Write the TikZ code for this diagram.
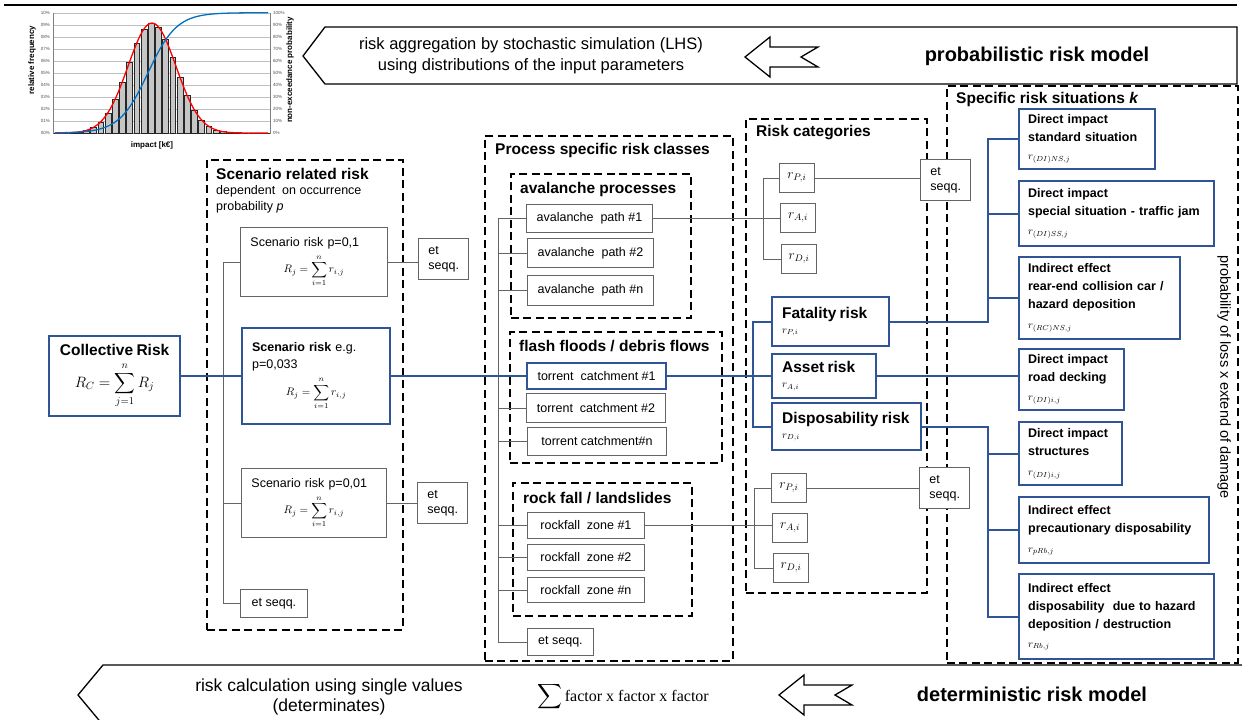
\documentclass[tikz,border=0pt]{standalone}
\usepackage{fix-cm}
\usepackage{amsmath}
\usepackage{fontspec}
\setmainfont{Liberation Sans}
\newfontfamily\serifface{Liberation Serif}
\usetikzlibrary{positioning}

\definecolor{riskblue}{RGB}{47,85,151}
\definecolor{linegray}{RGB}{100,100,100}
\definecolor{cdfblue}{RGB}{0,112,192}
\newcommand\fsz[2]{\fontsize{#1}{#2}\selectfont}

\tikzset{
  smallbox/.style={draw=linegray, line width=0.9pt, fill=white, anchor=north west, inner sep=0pt, font=\fsz{12.5}{15}},
  mathbox/.style={smallbox, minimum width=35pt, minimum height=29pt, font=\fsz{13.5}{15}},
  seqbox/.style={smallbox, minimum width=50pt, minimum height=41pt, text width=30pt, inner xsep=10pt},
  bluebox/.style={draw=riskblue, line width=2.2pt, fill=white, anchor=north west, inner sep=0pt},
  spec/.style={bluebox, inner xsep=9pt, font=\bfseries\fsz{12.5}{18}},
  groupbox/.style={draw=black, line width=1.6pt, dash pattern=on 8pt off 4.5pt, anchor=north west, inner sep=0pt},
  headline/.style={anchor=west, inner sep=0pt, font=\bfseries\fsz{15.5}{18}},
  link/.style={draw=linegray, line width=0.9pt},
  bluelink/.style={draw=riskblue, line width=2.2pt},
  hollow/.style={draw=black, line width=1.3pt, fill=white},
  ticklabel/.style={inner sep=0pt, text=black!70, font=\fsz{4.5}{5}},
}

\begin{document}
\begin{tikzpicture}[x=1pt, y=-1pt]
\useasboundingbox (0,0) rectangle (1242,720);

% simulated distribution (top left)
\foreach \k in {0,...,10}
  \draw[gray!50, line width=0.4pt] (53,{133-12.03*\k}) -- (270,{133-12.03*\k});
\draw[gray, line width=0.5pt] (53,12.7) -- (53,133) -- (270,133) -- (270,12.7);
\foreach \i in {0,...,29} {
  \pgfmathsetmacro\xc{57.5+7.2*\i}
  \pgfmathsetmacro\hb{109.5*exp(-((\xc-152)^2)/1152)}
  \draw[fill=gray!45, draw=black!85, line width=0.4pt] ({\xc-2.9},133) rectangle ({\xc+2.9},{133-\hb});
}
\draw[red, line width=1.3pt, smooth, domain=55:268, samples=80, variable=\t] plot (\t,{133-110*exp(-((\t-152)^2)/1152)});
\draw[cdfblue, line width=1.3pt, smooth, domain=55:268, samples=80, variable=\t] plot (\t,{133-120.3/(1+exp(-0.07*(\t-148)))});
\foreach \k in {0,...,10} {
  \pgfmathtruncatemacro\r{10*\k}
  \node[ticklabel, anchor=east] (lt\k) at (50,{133-12.03*\k}) {\ifnum\k<10 0\fi\k\%};
  \node[ticklabel, anchor=west] (rt\k) at (273,{133-12.03*\k}) {\r\%};
}
\node[rotate=90, font=\bfseries\fsz{8}{9}] (relfreq) at (32,60) {relative frequency};
\node[rotate=90, font=\bfseries\fsz{8}{9}] (nonex) at (290,70) {non-exceedance probability};
\node[font=\bfseries\fsz{8}{9}] (impact) at (152,145) {impact [k€]};

% probabilistic model arrow
\draw[line width=1.8pt] (4,5) -- (1237,5);
\draw[hollow] (1237,27) -- (325,27) -- (303,56) -- (325,84) -- (1237,84) -- cycle;
\node[font=\fsz{16.5}{21}, align=center] (lhs) at (531,56) {risk aggregation by stochastic simulation (LHS)\\using distributions of the input parameters};
\draw[hollow] (745,57) -- ++(25,-20) -- ++(0,10) -- ++(48,0) -- ++(-17,10) -- ++(17,10) -- ++(-48,0) -- ++(0,10) -- cycle;
\node[font=\bfseries\fsz{20}{24}] (probmodel) at (1037,56) {probabilistic risk model};

% deterministic model arrow
\draw[hollow] (1242,665) -- (103,665) -- (78,695) -- (103,725);
\node[font=\fsz{17.5}{20}, align=center] (single) at (329,697) {risk calculation using single values\\(determinates)};
\node[font=\fsz{16}{18}] (sumfac) at (623,697) {$\displaystyle\sum$\,\serifface factor x factor x factor};
\draw[hollow] (779,695) -- ++(25,-20) -- ++(0,10) -- ++(48,0) -- ++(-17,10) -- ++(17,10) -- ++(-48,0) -- ++(0,10) -- cycle;
\node[font=\bfseries\fsz{20}{24}] (detmodel) at (1032,694) {deterministic risk model};

% group frames
\node[groupbox, minimum width=196pt, minimum height=470pt] (scengrp) at (206,159) {};
\node[groupbox, minimum width=248pt, minimum height=525pt] (procgrp) at (484,135) {};
\node[groupbox, minimum width=180pt, minimum height=144pt] (avgrp) at (510,173) {};
\node[groupbox, minimum width=212pt, minimum height=131pt] (flashgrp) at (509,331) {};
\node[groupbox, minimum width=179pt, minimum height=133pt] (rockgrp) at (512,482) {};
\node[groupbox, minimum width=181pt, minimum height=474pt] (catgrp) at (745,118) {};
\node[groupbox, minimum width=291pt, minimum height=577pt] (sitgrp) at (946,85) {};

\node[headline] (scentitle) at (216,174) {Scenario related risk};
\node[anchor=north west, align=left, inner sep=0pt, font=\fsz{12.5}{16}] (scensub) at (216,185) {dependent\ \ on occurrence\\probability \textit{p}};
\node[headline] (proctitle) at (495,150) {Process specific risk classes};
\node[headline] (avtitle) at (520,189) {avalanche processes};
\node[headline] (flashtitle) at (519,346) {flash floods / debris flows};
\node[headline] (rocktitle) at (523,498) {rock fall / landslides};
\node[headline] (cattitle) at (756,133) {Risk categories};
\node[headline] (sittitle) at (956,99) {Specific risk situations \textit{k}};
\node[rotate=-90, font=\fsz{14.5}{17}] (lossx) at (1224,377) {probability of loss x extend of damage};

% collective risk and scenarios
\node[bluebox, minimum width=131pt, minimum height=80pt, text width=121pt, inner xsep=5pt] (coll) at (48,335) {\centering{\bfseries\fsz{15.5}{18}Collective Risk\par}\vspace{6pt}\fsz{15}{17}$\displaystyle R_C=\sum_{j=1}^{n} R_j$\par};
\node[smallbox, minimum width=147pt, minimum height=69pt, text width=127pt, inner xsep=10pt] (s1) at (240,227) {Scenario risk p=0,1\par\vspace{5pt}\centering\fsz{11}{13}$\displaystyle R_j=\sum_{i=1}^{n} r_{i,j}$\par};
\node[bluebox, minimum width=148pt, minimum height=96pt, text width=128pt, inner xsep=10pt, font=\fsz{12.5}{17}] (s2) at (241,327) {{\bfseries Scenario risk} e.g.\par p=0,033\par\vspace{5pt}\centering\fsz{11}{13}$\displaystyle R_j=\sum_{i=1}^{n} r_{i,j}$\par};
\node[smallbox, minimum width=145pt, minimum height=69pt, text width=125pt, inner xsep=10pt] (s3) at (241,468) {Scenario risk p=0,01\par\vspace{5pt}\centering\fsz{11}{13}$\displaystyle R_j=\sum_{i=1}^{n} r_{i,j}$\par};
\node[smallbox, minimum width=67pt, minimum height=28pt] (sx) at (240,589) {et seqq.};
\node[seqbox] (e1) at (418,238) {et\\seqq.};
\node[seqbox] (e2) at (417,482) {et\\seqq.};

% process classes
\node[smallbox, minimum width=126pt, minimum height=28pt] (av1) at (526,204) {avalanche\ \ path \#1};
\node[smallbox, minimum width=126pt, minimum height=29pt] (av2) at (527,238) {avalanche\ \ path \#2};
\node[smallbox, minimum width=126pt, minimum height=30pt] (avn) at (527,275) {avalanche\ \ path \#n};
\node[bluebox, minimum width=139pt, minimum height=26pt, font=\fsz{12.5}{15}] (tc1) at (526,362) {torrent\ \ catchment \#1};
\node[smallbox, minimum width=139pt, minimum height=29pt] (tc2) at (526,393) {torrent\ \ catchment \#2};
\node[smallbox, minimum width=139pt, minimum height=28pt] (tcn) at (527,427) {torrent catchment\#n};
\node[smallbox, minimum width=117pt, minimum height=26pt] (rf1) at (527,512) {rockfall\ \ zone \#1};
\node[smallbox, minimum width=117pt, minimum height=26pt] (rf2) at (527,544) {rockfall\ \ zone \#2};
\node[smallbox, minimum width=117pt, minimum height=25pt] (rfn) at (527,577) {rockfall\ \ zone \#n};
\node[smallbox, minimum width=66pt, minimum height=27pt] (pe) at (527,628) {et seqq.};

% risk categories
\node[mathbox] (rp1) at (779,163) {$r_{P,i}$};
\node[mathbox] (ra1) at (780,203) {$r_{A,i}$};
\node[mathbox] (rd1) at (781,244) {$r_{D,i}$};
\node[seqbox] (e3) at (920,159) {et\\seqq.};
\node[mathbox] (rp2) at (771,473) {$r_{P,i}$};
\node[mathbox] (ra2) at (772,513) {$r_{A,i}$};
\node[mathbox] (rd2) at (773,553) {$r_{D,i}$};
\node[seqbox] (e4) at (919,467) {et\\seqq.};
\node[bluebox, minimum width=117pt, minimum height=49pt, text width=97pt, inner xsep=10pt] (fat) at (771,296) {{\bfseries\fsz{15.5}{18}Fatality risk\par}{\fsz{10.5}{15}$r_{P,i}$\par}};
\node[bluebox, minimum width=104pt, minimum height=44pt, text width=84pt, inner xsep=10pt] (asset) at (771,353) {{\bfseries\fsz{15.5}{18}Asset risk\par}{\fsz{10.5}{15}$r_{A,i}$\par}};
\node[bluebox, minimum width=149pt, minimum height=47pt, text width=129pt, inner xsep=10pt] (dis) at (771,402) {{\bfseries\fsz{15.5}{18}Disposability risk\par}{\fsz{10.5}{15}$r_{D,i}$\par}};

% specific risk situations
\node[spec, minimum width=136pt, minimum height=60pt, text width=118pt] (spA) at (1018,108) {Direct impact\par standard situation\par{\mdseries\fsz{10.5}{18}$r_{(DI)NS,j}$\par}};
\node[spec, minimum width=195pt, minimum height=65pt, text width=177pt] (spB) at (1018,180) {Direct impact\par special situation - traffic jam\par{\mdseries\fsz{10.5}{19}$r_{(DI)SS,j}$\par}};
\node[spec, minimum width=161pt, minimum height=82pt, text width=143pt] (spC) at (1018,256) {Indirect effect\par rear-end collision car /\par hazard deposition\par{\mdseries\fsz{10.5}{20}$r_{(RC)NS,j}$\par}};
\node[spec, minimum width=105pt, minimum height=61pt, text width=87pt] (spD) at (1018,348) {Direct impact\par road decking\par{\mdseries\fsz{10.5}{19}$r_{(DI)i,j}$\par}};
\node[spec, minimum width=103pt, minimum height=63pt, text width=85pt] (spE) at (1018,421) {Direct impact\par structures\par{\mdseries\fsz{10.5}{20}$r_{(DI)i,j}$\par}};
\node[spec, minimum width=190pt, minimum height=66pt, text width=172pt] (spF) at (1018,496) {Indirect effect\par precautionary disposability\par{\mdseries\fsz{10.5}{20}$r_{pRb,j}$\par}};
\node[spec, minimum width=195pt, minimum height=85pt, text width=177pt] (spG) at (1018,573) {Indirect effect\par disposability\ \ due to hazard\par deposition / destruction\par{\mdseries\fsz{10.5}{19}$r_{Rb,j}$\par}};

% connectors
\coordinate (scentrunk) at (223,0);
\coordinate (proctrunk) at (498,0);
\coordinate (cattrunkA) at (763,0);
\coordinate (cattrunkB) at (754,0);
\coordinate (risktrunk) at (753,0);
\coordinate (sittrunk) at (988,0);

\draw[link] (s1.west) -- (s1.west -| scentrunk) -- (sx.west -| scentrunk) -- (sx.west);
\draw[link] (s3.west) -- (s3.west -| scentrunk);
\draw[link] (s1.east) -- (s1.east -| e1.west);
\draw[link] (s3.east) -- (s3.east -| e2.west);

\draw[link] (av1.west) -- (av1.west -| proctrunk) -- (pe.west -| proctrunk) -- (pe.west);
\foreach \b in {av2,avn,tc2,tcn,rf1,rf2,rfn}
  \draw[link] (\b.west) -- (\b.west -| proctrunk);

\draw[link] (av1.east) -- (av1.east -| ra1.west);
\draw[link] (rp1.west) -- (rp1.west -| cattrunkA) -- (rd1.west -| cattrunkA) -- (rd1.west);
\draw[link] (rp1.east) -- (rp1.east -| e3.west);
\draw[link] (rf1.east) -- (rf1.east -| ra2.west);
\draw[link] (rp2.west) -- (rp2.west -| cattrunkB) -- (rd2.west -| cattrunkB) -- (rd2.west);
\draw[link] (rp2.east) -- (rp2.east -| e4.west);

\draw[bluelink] (coll.east) -- (coll.east -| s2.west);
\draw[bluelink] (s2.east) -- (s2.east -| tc1.west);
\draw[bluelink] (tc1.east) -- (tc1.east -| asset.west);
\draw[bluelink] (fat.west) -- (fat.west -| risktrunk) -- (dis.west -| risktrunk) -- (dis.west);
\draw[bluelink] (fat.east) -- (fat.east -| sittrunk) -- (spA.west -| sittrunk) -- (spA.west);
\draw[bluelink] (spB.west) -- (spB.west -| sittrunk);
\draw[bluelink] (spC.west) -- (spC.west -| sittrunk);
\draw[bluelink] (asset.east) -- (asset.east -| spD.west);
\draw[bluelink] (dis.east) -- (dis.east -| sittrunk) -- (spG.west -| sittrunk) -- (spG.west);
\draw[bluelink] (spE.west) -- (spE.west -| sittrunk);
\draw[bluelink] (spF.west) -- (spF.west -| sittrunk);
\end{tikzpicture}
\end{document}
